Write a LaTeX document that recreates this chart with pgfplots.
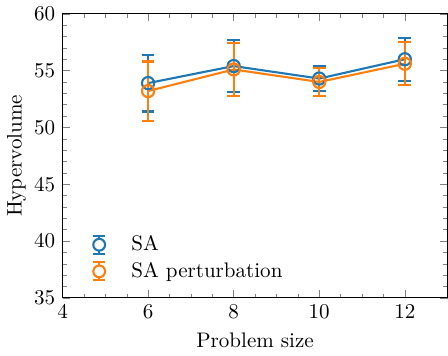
\documentclass[border=0pt]{standalone}
\usepackage{pgfplots}
\pgfplotsset{compat=1.18}
\definecolor{cblue}{HTML}{1F77B4}
\definecolor{corange}{HTML}{FF7F0E}
\pgfplotsset{
    errlegend/.style={legend image code/.code={
        \path[draw=none] (0cm,0cm) -- (0.5cm,0cm);
        \draw[line width=1pt] (0.5cm,-0.15cm) -- (0.5cm,0.15cm);
        \draw[line width=1pt] (0.4cm,-0.15cm) -- (0.6cm,-0.15cm);
        \draw[line width=1pt] (0.4cm,0.15cm) -- (0.6cm,0.15cm);
        \draw[line width=1pt, fill=white] (0.5cm,0cm) circle (2.8pt);}}
}
\begin{document}
\begin{tikzpicture}
\begin{axis}[
    scale only axis,
    width=183pt, height=135pt,
    xmin=4, xmax=13, ymin=35, ymax=60,
    xtick={4,6,8,10,12}, ytick={35,40,...,60},
    minor x tick num=3, minor y tick num=4,
    tick align=inside, tick pos=both,
    major tick length=3.5pt, minor tick length=2pt,
    xlabel={Problem size}, ylabel={Hypervolume},
    ylabel style={yshift=-3pt},
    legend style={draw=none, fill=none, row sep=0pt, column sep=10pt,
        at={(0.0,0.03)}, anchor=south west},
    legend cell align=left,
    every axis plot/.append style={line width=1pt},
    error bars/error bar style={line width=1pt},
    error bars/error mark options={rotate=90, mark size=3pt, line width=1pt},
]
\addplot[color=cblue, mark=o, mark size=2.9pt, mark options={fill=white}, errlegend,
    error bars/.cd, y dir=both, y explicit]
coordinates {
    (6, 53.9) +- (0, 2.5)
    (8, 55.4) +- (0, 2.3)
    (10, 54.3) +- (0, 1.1)
    (12, 56.0) +- (0, 1.9)
};
\addlegendentry{SA}
\addplot[color=corange, mark=o, mark size=2.9pt, mark options={fill=white}, errlegend,
    error bars/.cd, y dir=both, y explicit]
coordinates {
    (6, 53.2) +- (0, 2.6)
    (8, 55.1) +- (0, 2.3)
    (10, 54.0) +- (0, 1.2)
    (12, 55.6) +- (0, 1.9)
};
\addlegendentry{SA perturbation}
\end{axis}
\end{tikzpicture}
\end{document}
